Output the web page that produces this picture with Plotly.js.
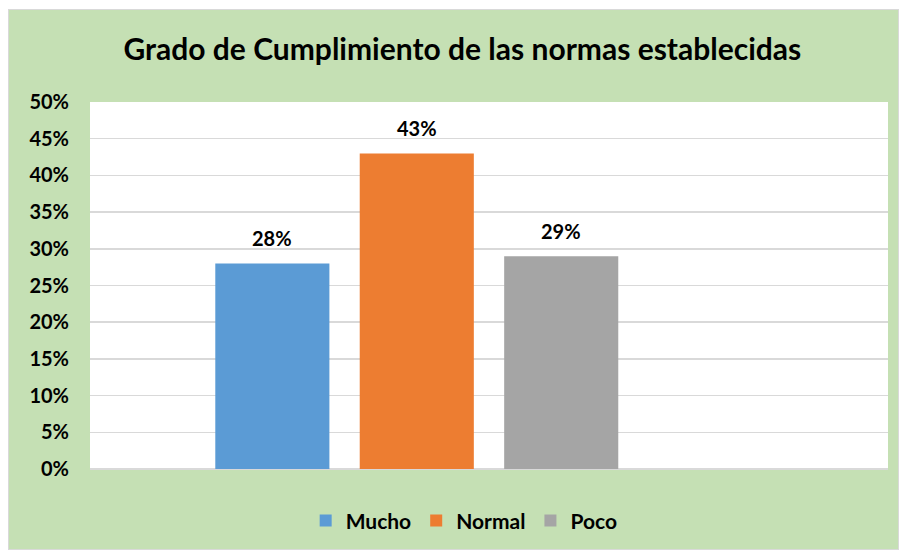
<!DOCTYPE html>
<html>
<head>
<meta charset="utf-8">
<script src="https://cdn.plot.ly/plotly-3.0.1.min.js"></script>
<style>
  html, body { margin: 0; padding: 0; background: #ffffff; }
  #frame { position: absolute; left: 8px; top: 9px; width: 891px; height: 541px; background: #d9d9d9; }
  #chart { position: absolute; left: 9px; top: 10px; width: 889px; height: 539px; }
</style>
</head>
<body>
<div id="frame"></div>
<div id="chart"></div>
<script>
const categories = ["Grado de Cumplimiento"];
const seriesNames = ["Mucho", "Normal", "Poco"];
const seriesValues = [[0.28], [0.43], [0.29]];
const seriesColors = ["#5B9BD5", "#ED7D31", "#A5A5A5"];
const yTickValues = [0, 0.05, 0.10, 0.15, 0.20, 0.25, 0.30, 0.35, 0.40, 0.45, 0.50];

const font = "Lato, 'Open Sans', sans-serif";
const W = 889, H = 539;
const margin = { l: 81, r: 10, t: 92, b: 80 };
const bargap = 0.276, bargroupgap = 0.21;
const nSlots = 4; // the original cluster has room for four series

const traces = seriesNames.map((name, i) => ({
  type: "bar",
  name: name,
  x: categories,
  y: seriesValues[i],
  marker: { color: seriesColors[i] },
  hoverinfo: "none"
}));
// empty fourth slot of the cluster (as in the original)
traces.push({ type: "bar", name: "", x: categories, y: [null], showlegend: false, hoverinfo: "none" });

// value labels placed over each bar of the cluster
const plotW = W - margin.l - margin.r;
const slotW = plotW * (1 - bargap) / nSlots;
const annotations = [];
seriesNames.forEach((name, i) => {
  seriesValues[i].forEach((v, j) => {
    annotations.push({
      x: categories[j], y: v, xref: "x", yref: "y",
      text: "<b>" + Math.round(v * 100) + "%</b>",
      showarrow: false,
      xshift: (i - (nSlots - 1) / 2) * slotW,
      yanchor: "bottom", yshift: 11,
      font: { family: font, size: 20, color: "#000000" }
    });
  });
});

const layout = {
  width: W,
  height: H,
  paper_bgcolor: "#C5E0B4",
  plot_bgcolor: "#FFFFFF",
  margin: margin,
  title: {
    text: "<b>Grado de Cumplimiento de las normas establecidas</b>",
    font: { family: font, size: 30, color: "#000000" },
    x: 0.51, xref: "container", xanchor: "center",
    y: 0.926, yref: "container", yanchor: "middle"
  },
  barmode: "group",
  bargap: bargap,
  bargroupgap: bargroupgap,
  showlegend: true,
  legend: {
    orientation: "h", x: 0.512, xanchor: "center", xref: "container",
    y: 0.052, yanchor: "middle", yref: "container",
    font: { family: font, size: 21, color: "#000000", weight: "bold" },
    bgcolor: "rgba(0,0,0,0)", traceorder: "normal"
  },
  annotations: annotations,
  xaxis: {
    showticklabels: false, showgrid: false, zeroline: false, showline: false,
    fixedrange: true
  },
  yaxis: {
    range: [0, 0.5], tickvals: yTickValues, tickformat: ".0%",
    showgrid: true, gridcolor: "#D9D9D9", gridwidth: 1.5,
    zeroline: true, zerolinecolor: "#D9D9D9", zerolinewidth: 1.5,
    showline: false, ticks: "", ticklabelstandoff: 20,
    tickfont: { family: font, size: 20, color: "#000000", weight: "bold" },
    fixedrange: true
  }
};

Plotly.newPlot("chart", traces, layout, { displayModeBar: false, staticPlot: true });
</script>
</body>
</html>
